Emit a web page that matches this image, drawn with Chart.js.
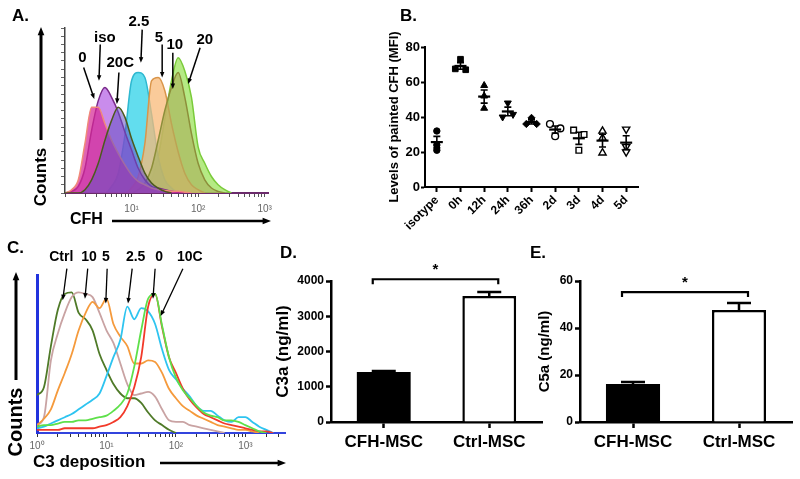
<!DOCTYPE html>
<html>
<head>
<meta charset="utf-8">
<script src="https://cdn.jsdelivr.net/npm/chart.js@4.4.1/dist/chart.umd.min.js"></script>
<style>
  html, body { margin: 0; padding: 0; background: #fff; }
  body { width: 800px; height: 479px; position: relative; overflow: hidden; }
  canvas { position: absolute; }
</style>
</head>
<body>
<canvas id="chart-a" width="290" height="235" style="left:0;top:0"></canvas>
<canvas id="chart-b" width="300" height="240" style="left:370px;top:0"></canvas>
<canvas id="chart-c" width="300" height="249" style="left:0;top:230px"></canvas>
<canvas id="chart-d" width="280" height="244" style="left:270px;top:235px"></canvas>
<canvas id="chart-e" width="300" height="244" style="left:500px;top:235px"></canvas>
<script>
const FONT = "'Liberation Sans', Arial, Helvetica, sans-serif";
Chart.defaults.font.family = FONT;
Chart.defaults.color = '#000';

// —— A : CFH histograms (x = log10 fluorescence, y = counts)
const binsA = [0, 0.1, 0.2, 0.3, 0.4, 0.5, 0.6, 0.7, 0.8, 0.9, 1.0, 1.1, 1.2, 1.3, 1.4, 1.5,
    1.6, 1.7, 1.8, 1.9, 2.0, 2.1, 2.2, 2.3, 2.4, 2.5, 2.6, 2.7, 2.8, 2.9, 3.0];
const cfh0 = [0, 2, 8, 30, 52, 52, 42, 32, 24, 17, 11, 7, 5, 3, 2, 1.5, 1, 1, 0.5, 0];
const cfhIso = [0, 1, 4, 15, 38, 56, 64, 58, 49, 37, 26, 15, 8, 4, 3, 2, 1, 0.5, 0];
const cfh20C = [0, 0, 0, 2, 8, 18, 32, 44, 52, 46, 33, 22, 12, 6, 3, 1, 0];
const cfh2_5 = [0, 0, 0, 0, 0, 0, 0, 4, 12, 35, 68, 73, 70, 48, 22, 8, 3, 0];
const cfh5 = [0, 0, 0, 0, 0, 0, 0, 0, 0, 0, 3, 10, 30, 68, 70, 62, 42, 25, 12, 5, 2, 0];
const cfh10 = [0, 0, 0, 0, 0, 0, 0, 0, 0, 0, 0, 2, 6, 15, 32, 50, 64, 73, 58, 36, 18, 8, 3, 1, 0];
const cfh20 = [0, 0, 0, 0, 0, 0, 0, 0, 0, 0, 0, 0, 2, 8, 22, 45, 68, 82, 74, 58, 28, 18, 10, 5, 2, 0];

// —— B : painted CFH (MFI), 3 replicates per time point
const timeLabels = ['isotype', '0h', '12h', '24h', '36h', '2d', '3d', '4d', '5d'];
const mfiIso = [32, 24, 21];
const mfi0h = [73, 67.5, 67];
const mfi12h = [58, 52, 45];
const mfi24h = [48, 40, 41.5];
const mfi36h = [39.5, 36, 36];
const mfi2d = [36, 33.5, 29];
const mfi3d = [32.5, 30, 21];
const mfi4d = [32, 28, 19.5];
const mfi5d = [33, 23, 20];
const mfiTicks = [0, 20, 40, 60, 80];

// —— C : C3 deposition histograms
const binsC = [0, 0.1, 0.2, 0.3, 0.4, 0.5, 0.6, 0.7, 0.8, 0.9, 1.0, 1.1, 1.2, 1.3, 1.4, 1.5,
    1.6, 1.7, 1.8, 1.9, 2.0, 2.1, 2.2, 2.3, 2.4, 2.5, 2.6, 2.7, 2.8, 2.9, 3.0, 3.1, 3.2, 3.3, 3.4, 3.5];
const c3Ctrl = [24, 29, 55, 78, 88, 89, 76, 72, 65, 50, 40, 31, 25, 22, 22, 19, 13, 8, 5, 2, 0];
const c3_10 = [5, 10, 46, 63, 76, 86, 89, 88, 86, 76, 65, 57, 44, 31, 24, 25, 26, 23, 15, 8, 7, 7, 5, 4, 3, 2, 1, 0];
const c3_5 = [5, 9, 15, 27, 38, 50, 65, 76, 83, 79, 85, 69, 61, 55, 44, 44, 46, 45, 38, 28, 22, 17, 14, 11, 9, 7, 5, 4, 3, 2, 2, 1, 0];
const c3_2_5 = [3, 4, 6, 8, 10, 12, 15, 18, 21, 25, 36, 48, 59, 80, 72, 79, 77, 69, 53, 40, 34, 28, 23, 17, 14, 14, 11, 8, 7, 10, 10, 7, 4, 2, 0];
const c3_0 = [2, 2, 2, 2, 3, 3, 3, 3, 3, 4, 5, 7, 10, 17, 29, 48, 80, 88, 67, 48, 38, 28, 21, 16, 12, 10, 8, 6, 5, 4, 3, 2, 1, 1, 0];
const c3_10C = [4, 5, 5, 6, 7, 7, 8, 8, 9, 10, 11, 14, 18, 25, 42, 65, 85, 88, 68, 48, 35, 27, 22, 17, 13, 11, 10, 8, 8, 7, 5, 3, 1, 0];

// —— D / E : ELISA
const mscGroups = ['CFH-MSC', 'Ctrl-MSC'];
const c3aMean = [1420, 3575];
const c3aSem = [30, 110];
const c5aMean = [16.2, 47.7];
const c5aSem = [0.8, 2.9];

const SUP = ['⁰', '¹', '²', '³'];

function say(ctx, s, x, y, font, align = 'center', rot = 0) {
    ctx.save();
    ctx.font = font;
    ctx.fillStyle = '#000';
    ctx.textAlign = align;
    ctx.textBaseline = 'middle';
    ctx.translate(x, y);
    if (rot) ctx.rotate(rot);
    ctx.fillText(s, 0, 0);
    ctx.restore();
}

function arrow(ctx, x1, y1, x2, y2, lw, head) {
    const a = Math.atan2(y2 - y1, x2 - x1);
    ctx.save();
    ctx.strokeStyle = '#000';
    ctx.fillStyle = '#000';
    ctx.lineWidth = lw;
    ctx.beginPath();
    ctx.moveTo(x1, y1);
    ctx.lineTo(x2 - Math.cos(a) * head * 0.8, y2 - Math.sin(a) * head * 0.8);
    ctx.stroke();
    ctx.beginPath();
    ctx.moveTo(x2, y2);
    ctx.lineTo(x2 - head * Math.cos(a - 0.38), y2 - head * Math.sin(a - 0.38));
    ctx.lineTo(x2 - head * Math.cos(a + 0.38), y2 - head * Math.sin(a + 0.38));
    ctx.closePath();
    ctx.fill();
    ctx.restore();
}

// log axis ticks (decades + minor)
function logTicks(max) {
    const t = [];
    for (let d = 0; d <= Math.floor(max); d++) {
        for (let m = 1; m < 10; m++) {
            const v = d + Math.log10(m);
            if (v <= max + 1e-9) t.push({ value: v });
        }
    }
    return t;
}
const isDecade = (v) => Math.abs(v - Math.round(v)) < 1e-9;

function annotate(ctx, x, y, list, font, lw, head) {
    list.forEach((a) => {
        say(ctx, a.t, x.getPixelForValue(a.at[0]), y.getPixelForValue(a.at[1]), font);
        arrow(ctx, x.getPixelForValue(a.from[0]), y.getPixelForValue(a.from[1]),
            x.getPixelForValue(a.to[0]), y.getPixelForValue(a.to[1]), lw, head);
    });
}

const base = {
    responsive: false,
    animation: false,
    devicePixelRatio: 1,
    events: [],
};
const noLegend = { legend: { display: false }, tooltip: { enabled: false } };

// —— A
const annA = [
    { t: '0', at: [0.26, 82], from: [0.28, 76], to: [0.44, 57] },
    { t: 'iso', at: [0.6, 94], from: [0.53, 90], to: [0.51, 68] },
    { t: '20C', at: [0.83, 79], from: [0.81, 73], to: [0.78, 54] },
    { t: '2.5', at: [1.11, 104], from: [1.16, 99], to: [1.14, 79] },
    { t: '5', at: [1.41, 94], from: [1.46, 90], to: [1.46, 70] },
    { t: '10', at: [1.65, 90], from: [1.62, 85], to: [1.62, 63] },
    { t: '20', at: [2.1, 93], from: [2.03, 88], to: [1.85, 66] },
];
const seriesA = [
    { counts: cfh20C, line: '#4c5a1c', fill: 'rgba(100, 80, 195, 0.55)' },
    { counts: cfh0, line: '#f08a7a', fill: 'rgba(214, 40, 150, 0.72)' },
    { counts: cfhIso, line: '#7a2a8a', fill: 'rgba(168, 70, 225, 0.62)' },
    { counts: cfh10, line: '#8d8f3a', fill: 'rgba(170, 175, 90, 0.6)' },
    { counts: cfh5, line: '#d9954a', fill: 'rgba(248, 185, 120, 0.75)' },
    { counts: cfh2_5, line: '#2fb8d0', fill: 'rgba(70, 215, 235, 0.85)' },
    { counts: cfh20, line: '#7acb3a', fill: 'rgba(150, 225, 80, 0.7)' },
];

const decorA = {
    id: 'decorA',
    afterDraw(chart) {
        const { ctx, scales: { x, y } } = chart;
        say(ctx, 'A.', 12, 16, `bold 17px ${FONT}`, 'left');
        say(ctx, 'Counts', 41, 177, `bold 17px ${FONT}`, 'center', -Math.PI / 2);
        arrow(ctx, 41, 140, 41, 27, 3, 9);
        say(ctx, 'CFH', 70, 220, `bold 16px ${FONT}`, 'left');
        arrow(ctx, 112, 221, 271, 221, 2.5, 9);
        annotate(ctx, x, y, annA, `bold 15px ${FONT}`, 1.5, 6);
    },
};

new Chart(document.getElementById('chart-a'), {
    type: 'line',
    data: {
        datasets: seriesA.map((s) => ({
            data: s.counts.map((c, i) => ({ x: binsA[i], y: c })),
            borderColor: s.line,
            backgroundColor: s.fill,
            fill: 'origin',
            borderWidth: 1.5,
            pointRadius: 0,
            cubicInterpolationMode: 'monotone',
        })),
    },
    options: {
        ...base,
        layout: { padding: { top: 28, right: 22, left: 0, bottom: 0 } },
        plugins: noLegend,
        scales: {
            x: {
                type: 'linear',
                min: 0,
                max: 3.05,
                afterBuildTicks: (s) => { s.ticks = logTicks(3.05); },
                afterFit: (s) => { s.height = 42; },
                ticks: {
                    autoSkip: false,
                    maxRotation: 0,
                    font: { size: 10 },
                    color: '#666',
                    padding: 6,
                    callback: (v) => (v > 0 && isDecade(v) ? '10' + SUP[Math.round(v)] : ''),
                },
                grid: { drawOnChartArea: false, tickLength: 4, tickColor: '#555', tickWidth: 1 },
                border: { color: '#6b2a6b', width: 2 },
            },
            y: {
                min: 0,
                max: 100,
                afterFit: (s) => { s.width = 65; },
                ticks: { display: false, stepSize: 5 },
                grid: { drawOnChartArea: false, tickLength: 4, tickColor: '#666' },
                border: { color: '#444', width: 1.5 },
            },
        },
    },
    plugins: [decorA],
});

// —— B
const groupsB = [mfiIso, mfi0h, mfi12h, mfi24h, mfi36h, mfi2d, mfi3d, mfi4d, mfi5d];
const markersB = [
    { style: 'circle', filled: true, r: 3.2, rot: 0 },
    { style: 'rect', filled: true, r: 4, rot: 0 },
    { style: 'triangle', filled: true, r: 4, rot: 0 },
    { style: 'triangle', filled: true, r: 4, rot: 180 },
    { style: 'rectRot', filled: true, r: 3.6, rot: 0 },
    { style: 'circle', filled: false, r: 3.4, rot: 0 },
    { style: 'rect', filled: false, r: 4, rot: 0 },
    { style: 'triangle', filled: false, r: 4.2, rot: 0 },
    { style: 'triangle', filled: false, r: 4.2, rot: 180 },
];
const mean = (a) => a.reduce((s, v) => s + v, 0) / a.length;
const sem = (a) => {
    const m = mean(a);
    return Math.sqrt(a.reduce((s, v) => s + (v - m) ** 2, 0) / (a.length - 1)) / Math.sqrt(a.length);
};
// replicates that would overlap are set side by side
const spread = (vals) => vals.map((v, j) => {
    const k = vals.findIndex((w, i) => i !== j && Math.abs(w - v) < 2.6);
    if (k < 0) return 0;
    return j < k ? -0.22 : 0.22;
});

const decorB = {
    id: 'decorB',
    afterDatasetsDraw(chart) {
        const { ctx, scales: { x, y } } = chart;
        ctx.save();
        ctx.strokeStyle = '#000';
        groupsB.forEach((vals, i) => {
            const m = mean(vals);
            const s = sem(vals);
            const cx = x.getPixelForValue(i);
            const ym = y.getPixelForValue(m);
            const y1 = y.getPixelForValue(m + s);
            const y2 = y.getPixelForValue(m - s);
            ctx.lineWidth = 2.2;
            ctx.beginPath();
            ctx.moveTo(cx - 6, ym);
            ctx.lineTo(cx + 6, ym);
            ctx.stroke();
            ctx.lineWidth = 1.6;
            ctx.beginPath();
            ctx.moveTo(cx, y1);
            ctx.lineTo(cx, y2);
            ctx.moveTo(cx - 3.5, y1);
            ctx.lineTo(cx + 3.5, y1);
            ctx.moveTo(cx - 3.5, y2);
            ctx.lineTo(cx + 3.5, y2);
            ctx.stroke();
        });
        ctx.restore();
    },
    afterDraw(chart) {
        say(chart.ctx, 'B.', 30, 16, `bold 17px ${FONT}`, 'left');
    },
};

new Chart(document.getElementById('chart-b'), {
    type: 'scatter',
    data: {
        datasets: groupsB.map((vals, i) => {
            const off = spread(vals);
            const mk = markersB[i];
            return {
                data: vals.map((v, j) => ({ x: i + off[j], y: v })),
                pointStyle: mk.style,
                pointRadius: mk.r,
                rotation: mk.rot,
                backgroundColor: mk.filled ? '#000' : '#fff',
                borderColor: '#000',
                borderWidth: mk.filled ? 1 : 1.4,
            };
        }),
    },
    options: {
        ...base,
        layout: { padding: { top: 47, right: 32, left: 0, bottom: 0 } },
        plugins: noLegend,
        scales: {
            x: {
                type: 'linear',
                min: -0.5,
                max: 8.5,
                afterBuildTicks: (s) => { s.ticks = timeLabels.map((_, i) => ({ value: i })); },
                afterFit: (s) => { s.height = 53; },
                ticks: {
                    autoSkip: false,
                    minRotation: 45,
                    maxRotation: 45,
                    padding: 1,
                    font: { size: 12, weight: 'bold' },
                    color: '#000',
                    callback: (v) => timeLabels[v],
                },
                grid: { drawOnChartArea: false, tickLength: 5, tickWidth: 2, tickColor: '#000' },
                border: { color: '#000', width: 2 },
            },
            y: {
                min: 0,
                max: 80,
                afterBuildTicks: (s) => { s.ticks = mfiTicks.map((v) => ({ value: v })); },
                afterFit: (s) => { s.width = 55; },
                ticks: { font: { size: 13, weight: 'bold' }, color: '#000', padding: 1 },
                grid: { drawOnChartArea: false, tickLength: 4, tickWidth: 2, tickColor: '#000' },
                border: { color: '#000', width: 2 },
                title: {
                    display: true,
                    text: 'Levels of painted CFH (MFI)',
                    font: { size: 13, weight: 'bold' },
                    color: '#000',
                    padding: { top: 17, bottom: 0 },
                },
            },
        },
    },
    plugins: [decorB],
});

// —— C
const annC = [
    { t: 'Ctrl', at: [0.35, 111], from: [0.43, 104], to: [0.37, 84] },
    { t: '10', at: [0.75, 111], from: [0.73, 104], to: [0.69, 85] },
    { t: '5', at: [0.99, 111], from: [1.01, 104], to: [0.99, 82] },
    { t: '2.5', at: [1.42, 111], from: [1.37, 104], to: [1.31, 82] },
    { t: '0', at: [1.76, 111], from: [1.7, 104], to: [1.67, 85] },
    { t: '10C', at: [2.2, 111], from: [2.1, 104], to: [1.78, 74] },
];
const seriesC = [
    { counts: c3_10C, color: '#5ee04a' },
    { counts: c3_0, color: '#f23a2a' },
    { counts: c3_2_5, color: '#2ec4f0' },
    { counts: c3_5, color: '#f59a3c' },
    { counts: c3_10, color: '#c9a3a3' },
    { counts: c3Ctrl, color: '#4f7a28' },
];

const decorC = {
    id: 'decorC',
    afterDraw(chart) {
        const { ctx, scales: { x, y } } = chart;
        say(ctx, 'C.', 7, 18, `bold 17px ${FONT}`, 'left');
        say(ctx, 'Counts', 16, 192, `bold 20px ${FONT}`, 'center', -Math.PI / 2);
        arrow(ctx, 16, 150, 16, 42, 3, 9);
        say(ctx, 'C3 deposition', 33, 232, `bold 17px ${FONT}`, 'left');
        arrow(ctx, 160, 233, 286, 233, 2.5, 9);
        annotate(ctx, x, y, annC, `bold 14px ${FONT}`, 1.3, 6);
    },
};

new Chart(document.getElementById('chart-c'), {
    type: 'line',
    data: {
        datasets: seriesC.map((s) => ({
            data: s.counts.map((c, i) => ({ x: binsC[i], y: c })),
            borderColor: s.color,
            borderWidth: 1.8,
            pointRadius: 0,
            fill: false,
            cubicInterpolationMode: 'monotone',
        })),
    },
    options: {
        ...base,
        layout: { padding: { top: 45, right: 15, left: 0, bottom: 0 } },
        plugins: noLegend,
        scales: {
            x: {
                type: 'linear',
                min: 0,
                max: 3.57,
                afterBuildTicks: (s) => { s.ticks = logTicks(3.57); },
                afterFit: (s) => { s.height = 46; },
                ticks: {
                    autoSkip: false,
                    maxRotation: 0,
                    font: { size: 10 },
                    color: '#666',
                    padding: 3,
                    callback: (v) => (isDecade(v) ? '10' + SUP[Math.round(v)] : ''),
                },
                grid: { drawOnChartArea: false, tickLength: 4, tickColor: '#333' },
                border: { color: '#3344dd', width: 2 },
            },
            y: {
                min: 0,
                max: 100,
                afterFit: (s) => { s.width = 37; },
                ticks: { display: false },
                grid: { display: false },
                border: { color: '#2233dd', width: 3 },
            },
        },
    },
    plugins: [decorC],
});

// —— D / E
function barDecor(id, letter, letterX, means, sems, bracketAt) {
    return {
        id,
        afterDatasetsDraw(chart) {
            const { ctx, scales: { y } } = chart;
            const bars = chart.getDatasetMeta(0).data;
            ctx.save();
            ctx.strokeStyle = '#000';
            ctx.lineWidth = 2.5;
            means.forEach((m, i) => {
                const bx = bars[i].x;
                const top = y.getPixelForValue(m);
                const cap = y.getPixelForValue(m + sems[i]);
                ctx.beginPath();
                ctx.moveTo(bx, top);
                ctx.lineTo(bx, cap);
                ctx.moveTo(bx - 12, cap);
                ctx.lineTo(bx + 12, cap);
                ctx.stroke();
            });
            const by = y.getPixelForValue(bracketAt);
            const x1 = bars[0].x - 11;
            const x2 = bars[1].x + 9;
            ctx.lineWidth = 2.2;
            ctx.beginPath();
            ctx.moveTo(x1, by + 5);
            ctx.lineTo(x1, by);
            ctx.lineTo(x2, by);
            ctx.lineTo(x2, by + 5);
            ctx.stroke();
            ctx.restore();
            say(ctx, '*', (x1 + x2) / 2, by - 9, `bold 15px ${FONT}`);
        },
        afterDraw(chart) {
            say(chart.ctx, letter, letterX, 18, `bold 17px ${FONT}`, 'left');
        },
    };
}

function barChart(canvasId, means, max, step, title, titleSize, titlePad, axisWidth, plugin) {
    new Chart(document.getElementById(canvasId), {
        type: 'bar',
        data: {
            labels: mscGroups,
            datasets: [{
                data: means,
                backgroundColor: ['#000', '#fff'],
                borderColor: '#000',
                borderWidth: [0, 2.5],
                borderSkipped: 'bottom',
                barPercentage: 0.51,
                categoryPercentage: 1,
            }],
        },
        options: {
            ...base,
            layout: { padding: { top: 46, right: 8, left: 0, bottom: 0 } },
            plugins: noLegend,
            scales: {
                x: {
                    offset: true,
                    afterFit: (s) => { s.height = 57; },
                    ticks: { font: { size: 17, weight: 'bold' }, color: '#000', padding: 4 },
                    grid: { offset: false, drawOnChartArea: false, tickLength: 6, tickWidth: 2.5, tickColor: '#000' },
                    border: { color: '#000', width: 2.5 },
                },
                y: {
                    min: 0,
                    max,
                    afterFit: (s) => { s.width = axisWidth; },
                    ticks: {
                        stepSize: step,
                        font: { size: 12, weight: 'bold' },
                        color: '#000',
                        padding: 2,
                        callback: (v) => `${v}`,
                    },
                    grid: { drawOnChartArea: false, tickLength: 5, tickWidth: 2.5, tickColor: '#000' },
                    border: { color: '#000', width: 2.5 },
                    title: {
                        display: true,
                        text: title,
                        font: { size: titleSize, weight: 'bold' },
                        color: '#000',
                        padding: { top: titlePad, bottom: 0 },
                    },
                },
            },
        },
        plugins: [plugin],
    });
}

barChart('chart-d', c3aMean, 4000, 1000, 'C3a (ng/ml)', 17, 3, 61,
    barDecor('decorD', 'D.', 10, c3aMean, c3aSem, 4050));
barChart('chart-e', c5aMean, 60, 20, 'C5a (ng/ml)', 15, 36, 80,
    barDecor('decorE', 'E.', 30, c5aMean, c5aSem, 55.3));
</script>
</body>
</html>
